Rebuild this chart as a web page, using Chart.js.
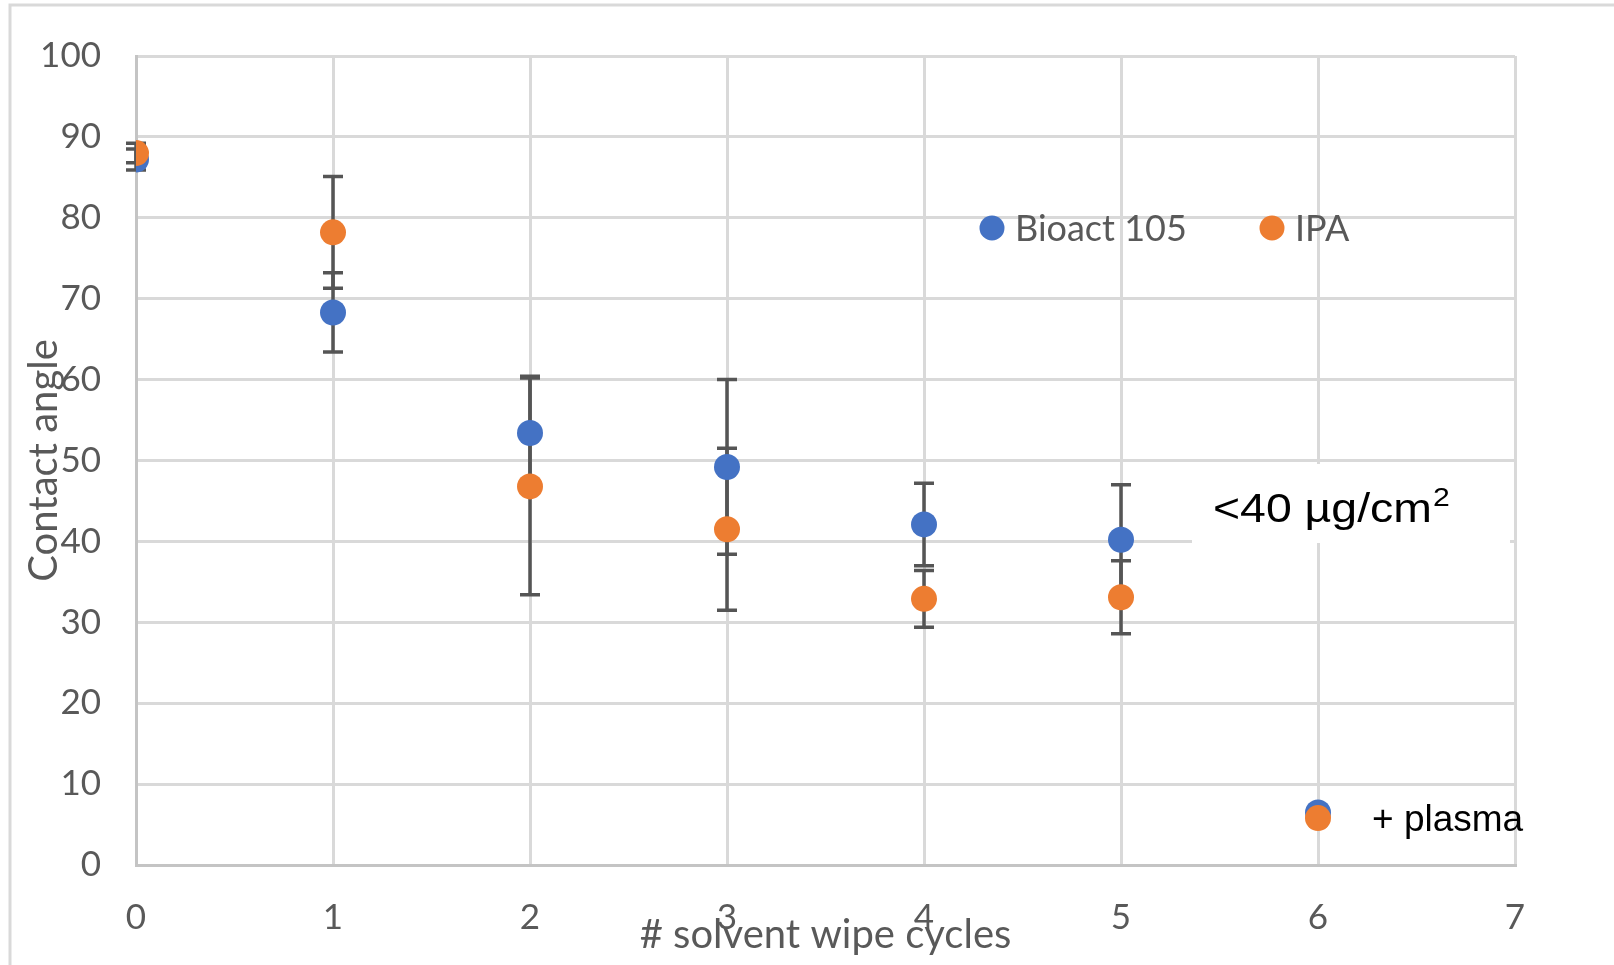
<!DOCTYPE html>
<html lang="en">
<head>
<meta charset="UTF-8">
<title>Contact angle vs solvent wipe cycles</title>
<style>
    body {
        margin: 0;
        background-color: #ffffff;
    }
    .chart-box {
        position: relative;
        width: 1614px;
        height: 965px;
    }
</style>
</head>
<body>
<div class="chart-box">
    <canvas id="angleChart" width="1614" height="965"></canvas>
</div>

<script src="https://cdn.jsdelivr.net/npm/chart.js"></script>
<script>
// values
const cycles = [0, 1, 2, 3, 4, 5, 6];
const bioactAngle = [87.2, 68.3, 53.4, 49.2, 42.1, 40.2, 6.5];
const bioactErr = [1.3, 4.9, 7.0, 10.8, 5.1, 6.8, 0.6];
const ipaAngle = [88.0, 78.2, 46.8, 41.5, 32.9, 33.1, 5.8];
const ipaErr = [1.2, 6.9, 13.4, 10.0, 3.5, 4.5, 0.8];
const xTicks = [0, 1, 2, 3, 4, 5, 6, 7];
const yTicks = [0, 10, 20, 30, 40, 50, 60, 70, 80, 90, 100];

const BLUE = '#4472c4';
const ORANGE = '#ed7d31';
const GREY_TEXT = '#595959';
const UI_FONT = 'Lato, "Open Sans", sans-serif';

function toPoints(values) {
    return cycles.map((c, i) => ({ x: c, y: values[i] }));
}

// frame lines of the chart area (top + left only, like the source)
const frame = {
    id: 'frame',
    beforeDraw(chart) {
        const ctx = chart.ctx;
        ctx.save();
        ctx.strokeStyle = '#d9d9d9';
        ctx.lineWidth = 3;
        ctx.beginPath();
        ctx.moveTo(10, 965);
        ctx.lineTo(10, 5);
        ctx.lineTo(1614, 5);
        ctx.stroke();
        ctx.restore();
    }
};

// vertical error bars, drawn under the markers
const errorBars = {
    id: 'errorBars',
    beforeDatasetsDraw(chart) {
        const { ctx, scales: { x, y } } = chart;
        ctx.save();
        ctx.strokeStyle = '#555555';
        ctx.lineWidth = 3.5;
        chart.data.datasets.forEach(ds => {
            ds.data.forEach((pt, i) => {
                const e = ds.errors[i];
                const px = x.getPixelForValue(pt.x);
                const top = y.getPixelForValue(pt.y + e);
                const bot = y.getPixelForValue(pt.y - e);
                ctx.beginPath();
                ctx.moveTo(px, top);
                ctx.lineTo(px, bot);
                ctx.moveTo(px - 10, top);
                ctx.lineTo(px + 10, top);
                ctx.moveTo(px - 10, bot);
                ctx.lineTo(px + 10, bot);
                ctx.stroke();
            });
        });
        ctx.restore();
    }
};

// legend sits inside the plot, so draw it by hand
const legendSpots = [{ x: 992, y: 228 }, { x: 1272, y: 228 }];
const innerLegend = {
    id: 'innerLegend',
    afterDraw(chart) {
        const ctx = chart.ctx;
        ctx.save();
        ctx.font = '36px ' + UI_FONT;
        ctx.textBaseline = 'middle';
        chart.data.datasets.forEach((ds, i) => {
            const spot = legendSpots[i];
            ctx.beginPath();
            ctx.arc(spot.x, spot.y, 12.5, 0, Math.PI * 2);
            ctx.fillStyle = ds.backgroundColor;
            ctx.fill();
            ctx.fillStyle = GREY_TEXT;
            ctx.fillText(ds.label, spot.x + 23, spot.y + 1);
        });
        ctx.restore();
    }
};

// text boxes pasted on the slide
const notes = {
    id: 'notes',
    afterDraw(chart) {
        const ctx = chart.ctx;
        ctx.save();
        ctx.fillStyle = '#ffffff';
        ctx.fillRect(1192, 464, 318, 79);

        ctx.fillStyle = '#000000';
        ctx.textBaseline = 'alphabetic';
        ctx.save();
        ctx.translate(1213, 522);
        ctx.scale(1.16, 1);
        ctx.font = '40px "Liberation Sans", Arial, sans-serif';
        ctx.fillText('<40 µg/cm', 0, 0);
        const w = ctx.measureText('<40 µg/cm').width;
        ctx.font = '26px "Liberation Sans", Arial, sans-serif';
        ctx.fillText('2', w + 1, -16);
        ctx.restore();

        ctx.font = '37px "Liberation Sans", Arial, sans-serif';
        ctx.fillText('+ plasma', 1372, 831);
        ctx.restore();
    }
};

new Chart(document.getElementById('angleChart').getContext('2d'), {
    type: 'scatter',
    data: {
        datasets: [
            {
                label: 'Bioact 105',
                data: toPoints(bioactAngle),
                errors: bioactErr,
                backgroundColor: BLUE,
                borderWidth: 0,
                pointRadius: 13,
                pointHoverRadius: 13,
                order: 1
            },
            {
                label: 'IPA',
                data: toPoints(ipaAngle),
                errors: ipaErr,
                backgroundColor: ORANGE,
                borderWidth: 0,
                pointRadius: 13,
                pointHoverRadius: 13,
                order: 0
            }
        ]
    },
    options: {
        responsive: false,
        animation: false,
        devicePixelRatio: 1,
        layout: { padding: { top: 51, right: 99, left: 0, bottom: 0 } },
        plugins: {
            legend: { display: false },
            tooltip: { enabled: false }
        },
        scales: {
            x: {
                type: 'linear',
                min: 0,
                max: 7,
                afterBuildTicks: s => { s.ticks = xTicks.map(v => ({ value: v })); },
                afterFit: s => { s.height = 100; },
                grid: { color: '#d9d9d9', lineWidth: 3, drawTicks: false },
                border: { color: '#c4c4c4', width: 3 },
                ticks: {
                    color: GREY_TEXT,
                    font: { family: UI_FONT, size: 35 },
                    padding: 32,
                    maxRotation: 0
                },
                title: {
                    display: true,
                    text: '# solvent wipe cycles',
                    color: GREY_TEXT,
                    font: { family: UI_FONT, size: 40 },
                    padding: { top: 0, bottom: 6 }
                }
            },
            y: {
                min: 0,
                max: 100,
                afterBuildTicks: s => { s.ticks = yTicks.map(v => ({ value: v })); },
                afterFit: s => { s.width = 136; },
                grid: { color: '#d9d9d9', lineWidth: 3, drawTicks: false },
                border: { color: '#c4c4c4', width: 3 },
                ticks: {
                    color: GREY_TEXT,
                    font: { family: UI_FONT, size: 35 },
                    padding: 35
                },
                title: {
                    display: true,
                    text: 'Contact angle',
                    color: GREY_TEXT,
                    font: { family: UI_FONT, size: 40 },
                    padding: { top: 20, bottom: 0 }
                }
            }
        }
    },
    plugins: [frame, errorBars, innerLegend, notes]
});
</script>
</body>
</html>
